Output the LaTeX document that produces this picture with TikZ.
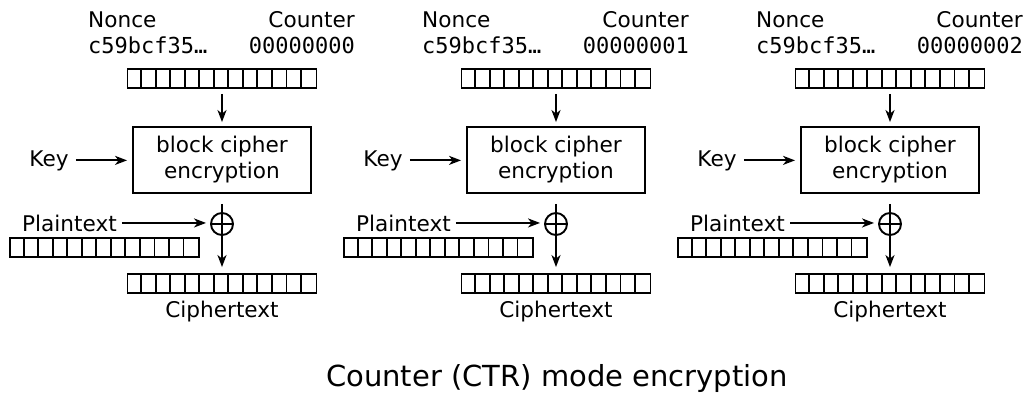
\documentclass[tikz,border=0pt]{standalone}
\usepackage{fontspec}
\setmainfont{DejaVu Sans}
\setmonofont{DejaVu Sans Mono}
\usetikzlibrary{arrows.meta}
\begin{document}
\begin{tikzpicture}[x=1pt,y=-1pt,
  lbl/.style={font=\fontsize{21.6}{26}\selectfont, inner sep=0pt},
  mono/.style={font=\ttfamily\fontsize{22}{26}\selectfont, inner sep=0pt},
  reg/.style={draw, line width=1.9pt, minimum width=189pt, minimum height=19pt, inner sep=0pt},
  cellline/.style={line width=1.9pt},
  cbox/.style={draw, line width=1.9pt, minimum width=178pt, minimum height=66pt, inner sep=0pt,
    align=center, font=\fontsize{21.6}{26}\selectfont},
  xorc/.style={draw, circle, line width=1.9pt, minimum size=22pt, inner sep=0pt},
  conn/.style={line width=1.9pt},
  arr/.style={line width=1.9pt, -{Stealth[length=12pt,width=9pt,inset=3.5pt]}}
]
\useasboundingbox (0,0) rectangle (1027,392);
\foreach \i in {0,1,2}{
\begin{scope}[xshift={\i*334pt}]
  \node[lbl, anchor=base west] (nonce\i) at (88,27) {Nonce};
  \node[lbl, anchor=base east] (ctrlbl\i) at (355,27) {Counter};
  \node[mono, anchor=base west] (nval\i) at (88,53) {c59bcf35…};
  \node[mono, anchor=base east] (cval\i) at (355,53) {0000000\i};
  \node[reg] (in\i) at (222,78.5) {};
  \foreach \k in {1,...,12}{
    \draw[cellline] ([xshift={\k*14.54pt}]in\i.south west) -- ([xshift={\k*14.54pt}]in\i.north west);
  }
  \node[cbox] (enc\i) at (222,160) {block cipher\\encryption};
  \node[lbl, anchor=base] (key\i) at (49,166) {Key};
  \node[xorc] (xor\i) at (222,224) {};
  \draw[conn] (xor\i.north) -- (xor\i.south);
  \draw[conn] (xor\i.west) -- (xor\i.east);
  \node[lbl, anchor=base] (pt\i) at (69.5,231) {Plaintext};
  \node[reg] (ptr\i) at (104.5,247.5) {};
  \foreach \k in {1,...,12}{
    \draw[cellline] ([xshift={\k*14.54pt}]ptr\i.south west) -- ([xshift={\k*14.54pt}]ptr\i.north west);
  }
  \node[reg] (out\i) at (222,283.5) {};
  \foreach \k in {1,...,12}{
    \draw[cellline] ([xshift={\k*14.54pt}]out\i.south west) -- ([xshift={\k*14.54pt}]out\i.north west);
  }
  \node[lbl, anchor=base] (ct\i) at (222,317) {Ciphertext};
  % connectors
  \draw[arr, shorten <=5pt, shorten >=4pt] (in\i.south) -- (enc\i.north);
  \draw[arr, shorten <=7pt, shorten >=5pt] (key\i.east) -- (key\i.east -| enc\i.west);
  \draw[conn, shorten <=10pt] (enc\i.south) -- (xor\i.north);
  \draw[arr, shorten <=5pt, shorten >=4pt] (pt\i.east) -- (pt\i.east -| xor\i.west);
  \draw[arr, shorten >=6pt] (xor\i.south) -- (out\i.north);
\end{scope}
}
\node[font=\fontsize{29}{34}\selectfont, anchor=base, inner sep=0pt] (title) at (557,386) {Counter (CTR) mode encryption};
\end{tikzpicture}
\end{document}
